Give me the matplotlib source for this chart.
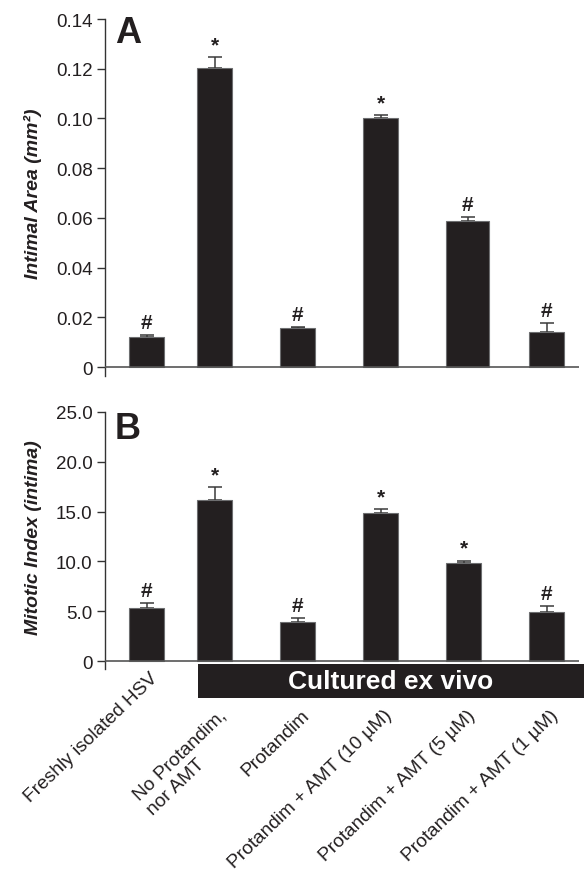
import numpy as np
import matplotlib as mpl
mpl.use('Agg')
import matplotlib.pyplot as plt
import matplotlib.ticker as ticker
from matplotlib.patches import Rectangle

mpl.rcParams['font.family'] = ['Liberation Sans', 'DejaVu Sans']
ink = '#231f20'

# ---------------------------- data ----------------------------
groups = ['Freshly isolated HSV', 'No Protandim,\nnor AMT', 'Protandim',
          'Protandim + AMT (10 µM)', 'Protandim + AMT (5 µM)', 'Protandim + AMT (1 µM)']
area = [0.0121, 0.1205, 0.0157, 0.1001, 0.0587, 0.0141]
area_err = [0.0009, 0.0042, 0.0004, 0.0012, 0.0016, 0.0036]
area_sig = ['#', '*', '#', '*', '#', '#']
mitotic = [5.35, 16.15, 3.95, 14.85, 9.85, 4.9]
mitotic_err = [0.5, 1.3, 0.4, 0.4, 0.2, 0.6]
mitotic_sig = ['#', '*', '#', '*', '*', '#']
area_ticks = [0, 0.02, 0.04, 0.06, 0.08, 0.10, 0.12, 0.14]
area_ticklabels = ['0', '0.02', '0.04', '0.06', '0.08', '0.10', '0.12', '0.14']
mit_ticks = [0, 5, 10, 15, 20, 25]
mit_ticklabels = ['0', '5.0', '10.0', '15.0', '20.0', '25.0']

# ---------------------------- layout ----------------------------
pos = np.arange(len(groups), dtype=float)
pos[1:] -= 0.18
bw = 0.42
widths_a = [bw, bw, bw, bw, 0.52, bw]
widths_b = [bw] * 6

fig = plt.figure(figsize=(5.84, 8.79), dpi=100)
ax_a = fig.add_axes([0.1798, 0.5711, 0.8116, 0.4061])
ax_b = fig.add_axes([0.1798, 0.2378, 0.8116, 0.2924])


def panel(ax, vals, errs, sigs, widths, ylim, ticks, ticklabels, ylabel, letter, ltop):
    left = pos - bw / 2
    centers = left + np.array(widths) / 2
    ax.bar(left, vals, width=widths, align='edge', color=ink,
           edgecolor='#6d6e70', linewidth=0.8, zorder=2)
    ax.errorbar(centers, vals, yerr=[np.zeros(len(errs)), errs], fmt='none',
                ecolor='#3a3a3a', elinewidth=1.1, capsize=5, capthick=1.1, zorder=1)
    for c, v, e, s in zip(centers, vals, errs, sigs):
        ax.annotate(s, xy=(c, v + e), xytext=(0, 3), textcoords='offset pixels',
                    ha='center', va='bottom', fontsize=15, fontweight='bold', color=ink)
    ax.set_xlim(-0.5, 5.21)
    ax.set_ylim(*ylim)
    ax.axhline(0, color='#555555', lw=1.2, zorder=3)
    for sp in ['top', 'right', 'bottom']:
        ax.spines[sp].set_visible(False)
    ax.spines['left'].set_color('#333333')
    ax.spines['left'].set_linewidth(1.0)
    ax.set_xticks([])
    ax.yaxis.set_major_locator(ticker.FixedLocator(ticks))
    ax.set_yticklabels(ticklabels)
    ax.tick_params(axis='y', direction='out', length=6, width=1.0, pad=3,
                   labelsize=13.5, colors='#333333', labelcolor=ink)
    ax.set_ylabel(ylabel, fontsize=14, fontweight='bold', fontstyle='italic', color=ink)
    mid = (0.5 * ylim[1] - ylim[0]) / (ylim[1] - ylim[0])
    ax.yaxis.set_label_coords(-0.133, mid)
    ax.text(0.021, ltop, letter, transform=ax.transAxes, ha='left', va='top',
            fontsize=26, fontweight='bold', color=ink)
    return centers


panel(ax_a, area, area_err, area_sig, widths_a, (-0.0036, 0.14),
      area_ticks, area_ticklabels, 'Intimal Area (mm²)', 'A', 1.012)
cb = panel(ax_b, mitotic, mitotic_err, mitotic_sig, widths_b, (-0.8, 25),
           mit_ticks, mit_ticklabels, 'Mitotic Index (intima)', 'B', 1.005)

# x labels, angled under the lower panel
for i, (c, g) in enumerate(zip(cb, groups)):
    dy = -8 if i == 0 else -45
    ax_b.annotate(g, xy=(c, 0), xytext=(3, dy), textcoords='offset pixels',
                  rotation=44, rotation_mode='anchor', ha='right', va='top',
                  multialignment='left', linespacing=1.25, fontsize=13.8, color=ink,
                  annotation_clip=False)

# "Cultured ex vivo" banner
fig.patches.append(Rectangle((0.339, 0.2048), 0.661, 0.0387, transform=fig.transFigure,
                             facecolor=ink, edgecolor='none'))
fig.text(0.6695, 0.2243, 'Cultured ex vivo', ha='center', va='center',
         fontsize=19, fontweight='bold', color='white')

plt.savefig('out.png', dpi=100)
